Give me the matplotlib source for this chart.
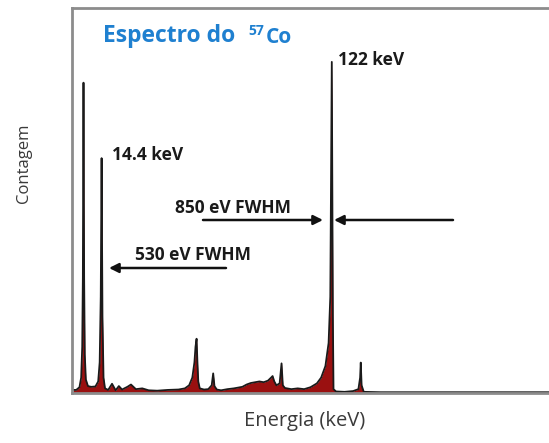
import matplotlib
matplotlib.use("Agg")
import matplotlib.pyplot as plt

# Spectrum trace: energy (keV) and counts (relative, 0-100)
energy = [0.5, 2.0, 3.5, 4.3, 4.8, 5.1, 5.4, 5.7, 6.0, 6.5, 7.5, 9.0, 11.0, 12.3, 13.0, 13.5,
          13.9, 14.3, 14.8, 15.5, 17.0, 18.8, 20.5, 22.0, 23.5, 26.0, 27.7, 30.0, 33.0, 36.0,
          40.0, 45.0, 50.0, 53.0, 55.0, 56.5, 57.5, 58.0, 58.5, 58.9, 59.3, 60.0, 62.0, 64.0,
          65.6, 66.3, 66.9, 68.0, 70.0, 73.0, 76.0, 80.0, 82.0, 84.0, 86.0, 88.0, 90.0, 92.0,
          93.5, 94.2, 95.0, 96.0, 97.5, 98.4, 99.0, 100.0, 103.0, 106.0, 109.0, 112.0, 115.0,
          117.0, 119.0, 120.5, 121.3, 122.0, 122.5, 122.8, 124.0, 128.0, 132.0, 134.5, 135.3,
          135.6, 136.0, 137.0, 145.0, 224.0]
counts = [0.8, 0.8, 1.5, 4.0, 12.0, 30.0, 80.6, 30.0, 10.0, 3.5, 1.8, 1.6, 1.7, 3.0, 8.0, 25.0,
          61.0, 20.0, 4.0, 1.2, 0.8, 2.4, 0.7, 1.8, 0.9, 1.6, 2.2, 1.0, 1.2, 0.7,
          0.6, 0.8, 0.9, 1.2, 2.0, 4.0, 8.0, 12.0, 14.1, 8.0, 3.0, 1.2, 0.9, 1.0,
          2.0, 5.1, 1.8, 0.9, 0.7, 1.0, 1.2, 1.6, 2.2, 2.6, 2.8, 3.0, 2.8, 3.2,
          4.0, 4.4, 3.0, 2.0, 2.5, 7.7, 2.0, 1.3, 1.0, 1.2, 1.0, 1.5, 2.5,
          4.0, 7.0, 13.0, 25.0, 86.0, 20.0, 1.0, 0.4, 0.3, 0.5, 1.0, 4.0,
          7.9, 2.0, 0.3, 0.2, 0.2]

title_main = "Espectro do"
title_sup = "57"
title_el = "Co"
peak_labels = ["14.4 keV", "122 keV"]
peak_label_pos = [(112, 155), (338, 60)]          # pixel positions (left, center)
fwhm_labels = ["850 eV FWHM", "530 eV FWHM"]
fwhm_label_pos = [(175, 208), (135, 255)]
xlabel = "Energia (keV)"
ylabel = "Contagem"

W, H = 549, 443
fig = plt.figure(figsize=(W / 100, H / 100), dpi=100)

def fx(px):
    return px / W

def fy(py):
    return 1 - py / H

ax = fig.add_axes([fx(72), fy(393), 1 - fx(72), fy(8) - fy(393)])
ax.set_xlim(0, 224)
ax.set_ylim(0, 100)
ax.fill_between(energy, counts, 0, color="#9a1010", lw=0)
ax.plot(energy, counts, color="#1a1a1a", lw=1.3)
ax.set_xticks([])
ax.set_yticks([])
for s in ["left", "top", "bottom"]:
    ax.spines[s].set_color("#8c8c8c")
    ax.spines[s].set_linewidth(2.0)
ax.spines["right"].set_visible(False)

# Title pieces
blue = "#1f80d0"
tfont = dict(family=["Open Sans", "DejaVu Sans"], weight="bold", color=blue)
fig.text(fx(103), fy(42), title_main, fontsize=16.5, va="baseline", ha="left", **tfont)
fig.text(fx(248), fy(35), title_sup, fontsize=10, va="baseline", ha="left", **tfont)
fig.text(fx(266), fy(43), title_el, fontsize=15, va="baseline", ha="left", **tfont)

lfont = dict(family=["Open Sans", "DejaVu Sans"], weight="bold", color="#1a1a1a", fontsize=12.5)
for lab, (px, py) in zip(peak_labels, peak_label_pos):
    fig.text(fx(px), fy(py), lab, va="center", ha="left", **lfont)
for lab, (px, py) in zip(fwhm_labels, fwhm_label_pos):
    fig.text(fx(px), fy(py), lab, va="center", ha="left", **lfont)

# Arrows (figure pixel coordinates)
arrows = [((203, 220), (323, 220)), ((453, 220), (334, 220)), ((226, 268), (109, 268))]
for (x0, y0), (x1, y1) in arrows:
    fig.add_artist(matplotlib.patches.FancyArrowPatch(
        (fx(x0), fy(y0)), (fx(x1), fy(y1)), transform=fig.transFigure,
        arrowstyle="-|>", mutation_scale=14, lw=1.8, color="#111111",
        shrinkA=0, shrinkB=0))

afont = dict(family=["Open Sans", "DejaVu Sans"], color="#3a3a3a")
fig.text(fx(305), fy(421), xlabel, ha="center", va="center", fontsize=14.5, **afont)
fig.text(fx(24), fy(163), ylabel, ha="center", va="center", rotation=90, fontsize=12, **afont)

fig.savefig("out.png", dpi=100)
